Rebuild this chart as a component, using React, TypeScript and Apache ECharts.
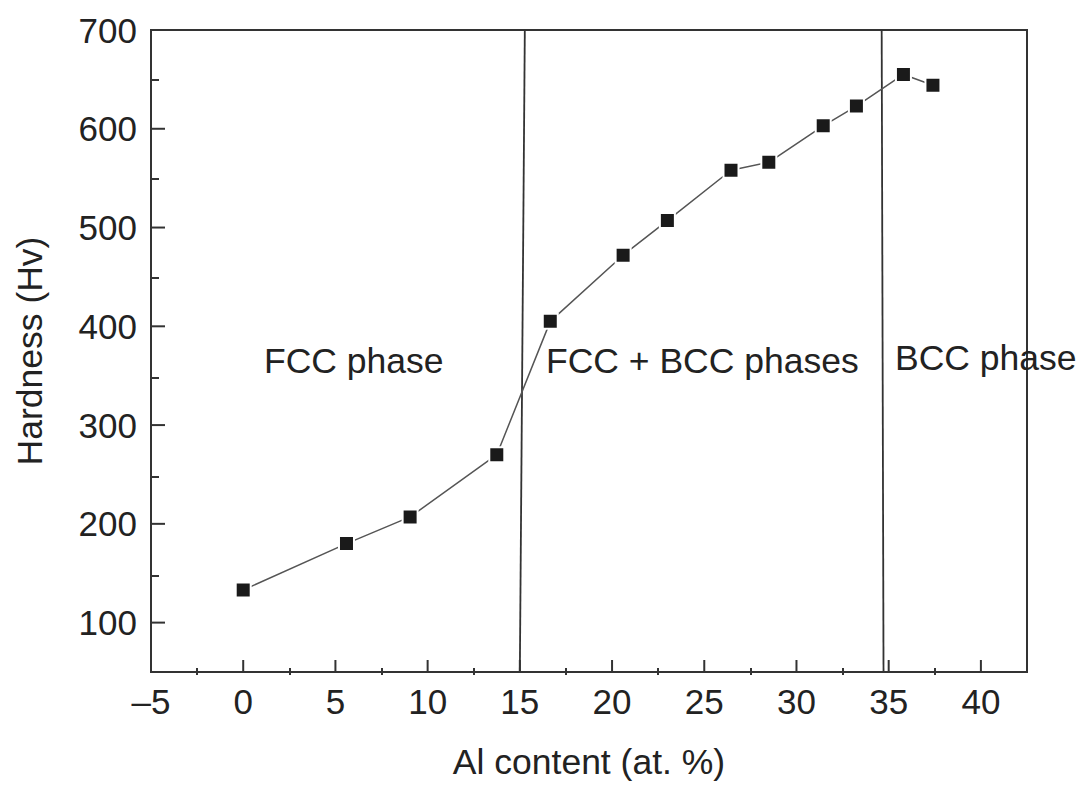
import React, { useEffect, useRef } from "react";
import * as echarts from "echarts";

const alContent = [0, 5.6, 9.05, 13.75, 16.65, 20.6, 23.0, 26.45, 28.5, 31.45, 33.25, 35.8, 37.4];
const hardness = [133, 180, 207, 270, 405, 472, 507, 558, 566, 603, 623, 655, 644];
const boundary1 = [[15.27, 700], [15.0, 50]];
const boundary2 = [[34.62, 700], [34.72, 50]];
const xLabels = [-5, 0, 5, 10, 15, 20, 25, 30, 35, 40];
const xMajorTicks = [0, 5, 10, 15, 20, 25, 30, 35, 40];
const xMinorTicks = [-2.5, 2.5, 7.5, 12.5, 17.5, 22.5, 27.5, 32.5, 37.5];
const yLabels = [100, 200, 300, 400, 500, 600, 700];
const yMajorTicks = [100, 200, 300, 400, 500, 600];
const yMinorTicks = [150, 250, 350, 450, 550, 650];
const phaseLabels = ["FCC phase", "FCC + BCC phases", "BCC phase"];

const FONT = "'Liberation Sans', Arial, Helvetica, sans-serif";
const INK = "#222";
const AXIS = "#333";
const X_MIN = -5;
const X_MAX = 42.5;
const Y_MIN = 50;
const Y_MAX = 700;
const X_MAJOR_LEN = 12;
const Y_MAJOR_LEN = 14;

const GRID_BOX = { left: 151, right: 58, top: 30, bottom: 110 };

function tickAxis(grid: number, values: number[], len: number, min: number, max: number, position: string) {
  return {
    type: "value",
    gridIndex: grid,
    min,
    max,
    position,
    axisLine: { show: false, onZero: false },
    axisTick: { show: true, inside: true, length: len, customValues: values, lineStyle: { color: AXIS, width: 2 } },
    axisLabel: { show: false },
    splitLine: { show: false },
  };
}

export default function App() {
  const ref = useRef<HTMLDivElement>(null);
  useEffect(() => {
    if (!ref.current) return;
    const chart = echarts.init(ref.current, null, { renderer: "svg" });
    const textStyle = { fontFamily: FONT, fontSize: 35.5, fill: INK };
    chart.setOption({
      animation: false,
      backgroundColor: "#fff",
      grid: [
        {
          ...GRID_BOX,
          show: true,
          borderColor: AXIS,
          borderWidth: 2,
          backgroundColor: "transparent",
        },
        { ...GRID_BOX, show: false },
      ],
      xAxis: [
        {
          type: "value",
          gridIndex: 0,
          min: X_MIN,
          max: X_MAX,
          position: "bottom",
          axisLine: { show: true, onZero: false, lineStyle: { color: AXIS, width: 2 } },
          axisTick: { show: false },
          axisLabel: {
            customValues: xLabels,
            margin: 12,
            fontFamily: FONT,
            fontSize: 35,
            color: INK,
            formatter: (v: number) => String(v).replace("-", "\u2013"),
          },
          splitLine: { show: false },
          name: "Al content (at. %)",
          nameLocation: "middle",
          nameGap: 72,
          nameTextStyle: { fontFamily: FONT, fontSize: 35.5, color: INK },
        },
        tickAxis(1, xMinorTicks, 7, X_MIN, X_MAX, "bottom"),
      ],
      yAxis: [
        {
          type: "value",
          gridIndex: 0,
          min: Y_MIN,
          max: Y_MAX,
          position: "left",
          axisLine: { show: true, onZero: false, lineStyle: { color: AXIS, width: 2 } },
          axisTick: { show: false },
          axisLabel: { customValues: yLabels, margin: 14, fontFamily: FONT, fontSize: 35, color: INK },
          splitLine: { show: false },
          name: "Hardness (Hv)",
          nameLocation: "middle",
          nameGap: 103,
          nameTextStyle: { fontFamily: FONT, fontSize: 35.5, color: INK },
        },
        tickAxis(1, yMinorTicks, 8, Y_MIN, Y_MAX, "left"),
      ],
      series: [
        {
          type: "custom",
          xAxisIndex: 0,
          yAxisIndex: 0,
          silent: true,
          clip: false,
          data: xMajorTicks.map((v) => [v, Y_MIN]),
          encode: { x: 0, y: 1 },
          renderItem: (params: any, api: any) => {
            const p = api.coord([api.value(0), api.value(1)]);
            return {
              type: "line",
              shape: { x1: p[0], y1: p[1], x2: p[0], y2: p[1] - X_MAJOR_LEN },
              style: { stroke: AXIS, lineWidth: 2 },
            };
          },
          z: 4,
        },
        {
          type: "custom",
          xAxisIndex: 0,
          yAxisIndex: 0,
          silent: true,
          clip: false,
          data: yMajorTicks.map((v) => [X_MIN, v]),
          encode: { x: 0, y: 1 },
          renderItem: (params: any, api: any) => {
            const p = api.coord([api.value(0), api.value(1)]);
            return {
              type: "line",
              shape: { x1: p[0], y1: p[1], x2: p[0] + Y_MAJOR_LEN, y2: p[1] },
              style: { stroke: AXIS, lineWidth: 2 },
            };
          },
          z: 4,
        },
        {
          type: "line",
          data: boundary1,
          symbol: "none",
          lineStyle: { color: "#333", width: 1.8 },
          silent: true,
        },
        {
          type: "line",
          data: boundary2,
          symbol: "none",
          lineStyle: { color: "#333", width: 1.8 },
          silent: true,
        },
        {
          type: "line",
          data: alContent.map((x, i) => [x, hardness[i]]),
          symbol: "rect",
          symbolSize: 15,
          lineStyle: { color: "#555", width: 1.5 },
          itemStyle: { color: "#1a1a1a", borderColor: "#fff", borderWidth: 2 },
          z: 5,
        },
      ],
      graphic: [
        { type: "text", left: 264, top: 343, z: 10, style: { ...textStyle, text: phaseLabels[0] } },
        { type: "text", left: 546, top: 343, z: 10, style: { ...textStyle, text: phaseLabels[1] } },
        { type: "text", left: 895, top: 340, z: 10, style: { ...textStyle, text: phaseLabels[2] } },
      ],
    });
    return () => chart.dispose();
  }, []);
  return (
    <div
      ref={ref}
      style={{ position: "fixed", left: 0, top: 0, width: 1085, height: 785, background: "#fff" }}
    />
  );
}
